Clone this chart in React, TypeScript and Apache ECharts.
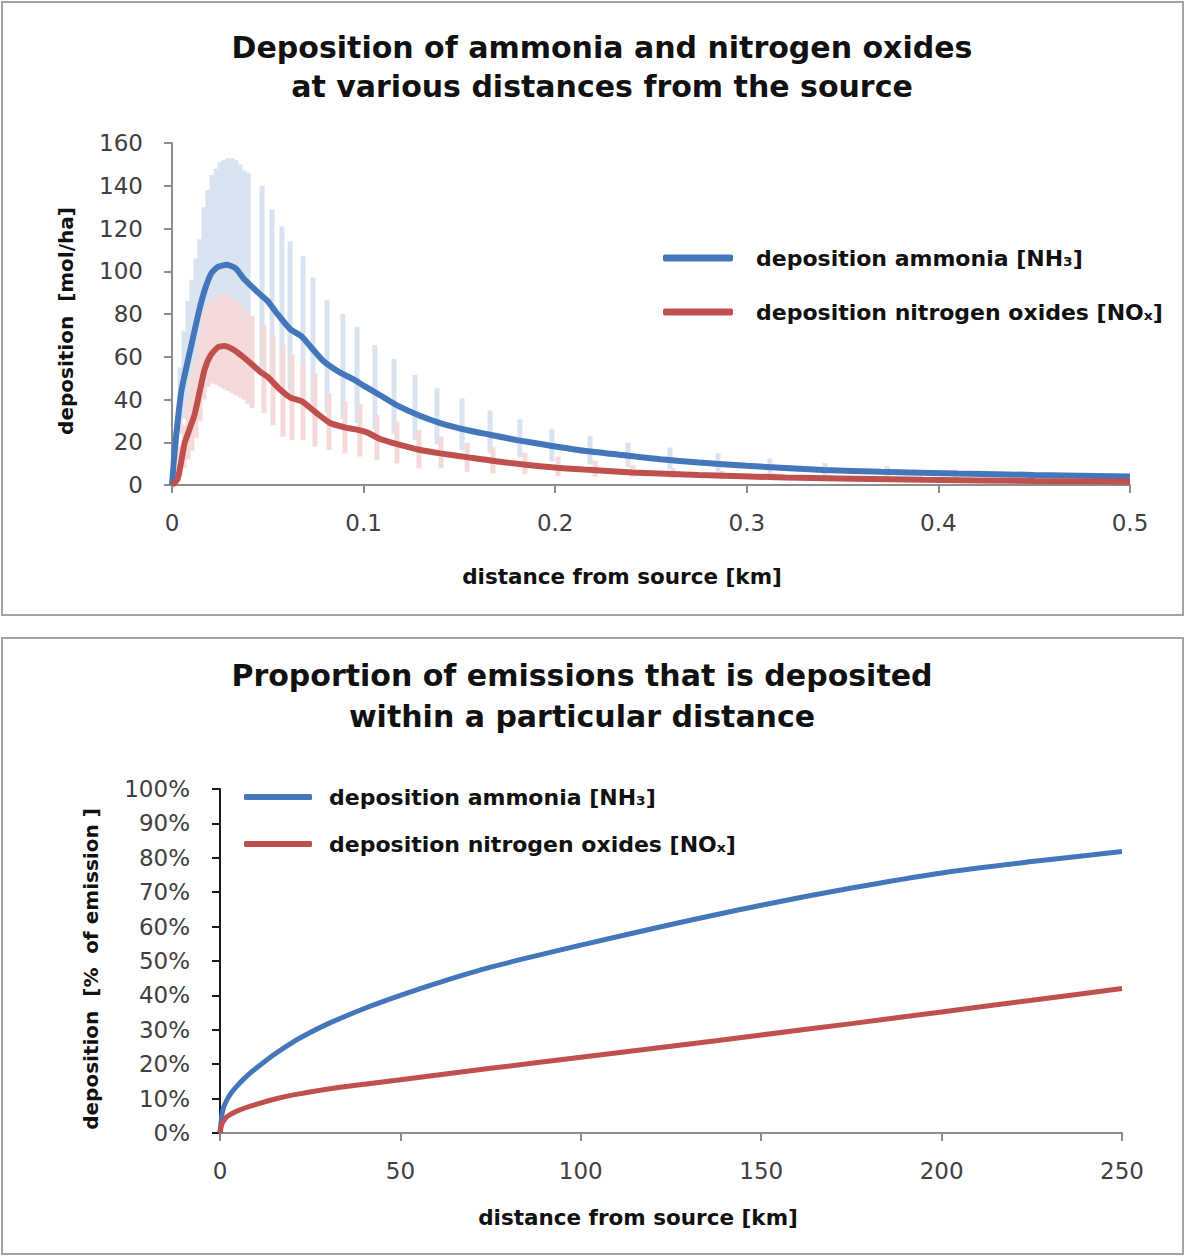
import React, { useEffect, useRef } from "react";
import * as echarts from "echarts";

// ---------- Top chart: deposition vs distance (km) ----------
const topXTicks = [0, 0.1, 0.2, 0.3, 0.4, 0.5];
const topYTicks = [0, 20, 40, 60, 80, 100, 120, 140, 160];

// ammonia line [km, mol/ha]
const nh3Line: [number, number][] = [
  [0, 0], [0.0014, 16], [0.003, 30], [0.0049, 44], [0.008, 57], [0.011, 69], [0.014, 81],
  [0.017, 91], [0.0205, 99], [0.024, 102], [0.0285, 103], [0.033, 101.5], [0.038, 96],
  [0.045, 90], [0.05, 86], [0.055, 80], [0.0616, 73], [0.0677, 69.5], [0.073, 64],
  [0.079, 58], [0.087, 53], [0.0945, 49.5], [0.1, 46.5], [0.1086, 42], [0.118, 37],
  [0.129, 32.5], [0.14, 29], [0.155, 25.5], [0.166, 23.5], [0.18, 21], [0.197, 18.5],
  [0.215, 16], [0.235, 14], [0.255, 12], [0.275, 10.5], [0.3, 9], [0.34, 7], [0.37, 6.2],
  [0.41, 5.4], [0.45, 4.7], [0.5, 4],
];

// nitrogen oxides line [km, mol/ha]
const noxLine: [number, number][] = [
  [0, 0], [0.003, 3], [0.0066, 19.6], [0.0095, 27], [0.0118, 33], [0.0145, 44], [0.017, 54],
  [0.02, 60.5], [0.024, 64.5], [0.0275, 65], [0.0327, 63], [0.037, 60], [0.041, 57],
  [0.046, 53], [0.05, 50.5], [0.056, 45], [0.0616, 41], [0.068, 39], [0.075, 34],
  [0.0825, 29], [0.09, 27], [0.096, 26], [0.102, 24.5], [0.1086, 21.5], [0.118, 19],
  [0.129, 16.5], [0.14, 14.8], [0.1555, 12.8], [0.17, 11], [0.192, 8.8], [0.215, 7.2],
  [0.24, 5.9], [0.275, 4.7], [0.32, 3.5], [0.392, 2.4], [0.45, 1.9], [0.5, 1.6],
];

// ammonia range bars
const nh3BarX = [
  0.0021, 0.0042, 0.0063, 0.0084, 0.0104, 0.0125, 0.0146, 0.0167, 0.0188, 0.0209, 0.023,
  0.0251, 0.0271, 0.0292, 0.0313, 0.0334, 0.0355, 0.0376, 0.0397, 0.047, 0.0522, 0.0574,
  0.0616, 0.0684, 0.0736, 0.0809, 0.0892, 0.0966, 0.1059, 0.1159, 0.1268, 0.1383, 0.1514,
  0.166, 0.1816, 0.1983, 0.2182, 0.238, 0.2599, 0.285, 0.3121, 0.3408, 0.3732, 0.4086,
  0.4478, 0.4896,
];
const nh3BarHigh = [
  25, 55, 72, 86, 96, 106, 115, 130, 138, 145, 148, 151, 152, 153, 153, 152, 150, 147,
  146, 140, 129, 121, 114, 107, 97, 86.5, 80, 74, 65.5, 59, 51.5, 45.5, 40.6, 35, 30.7,
  26.2, 23, 19.8, 17.5, 14.8, 12.5, 10.3, 8.9, 7.0, 5.8, 4.8,
];
const nh3BarLow = [
  13, 24, 31, 37, 42, 46, 50, 54, 56, 59, 60, 61, 62, 62, 61, 60, 58, 57, 56, 53, 50, 47,
  44, 41, 38, 34, 31, 29, 26, 24, 21, 19, 16.5, 15, 13, 11, 9.6, 8.3, 7.2, 6.2, 5.2, 4.3,
  3.7, 3.2, 2.8, 2.5,
];

// nitrogen oxides range bars
const noxBarX = [
  0.0042, 0.0063, 0.0084, 0.0104, 0.0125, 0.0146, 0.0167, 0.0188, 0.0209, 0.023, 0.0251,
  0.0271, 0.0292, 0.0313, 0.0334, 0.0355, 0.0376, 0.0397, 0.0418, 0.048, 0.0527, 0.0579,
  0.0626, 0.0684, 0.0746, 0.0819, 0.0903, 0.0981, 0.107, 0.1174, 0.1289, 0.1404, 0.154,
  0.1675, 0.1842, 0.2015, 0.2208, 0.2406, 0.2615, 0.2871, 0.3142, 0.3434, 0.3758,
];
const noxBarHigh = [
  18, 28, 40, 52, 60, 70, 82, 85, 86.5, 88, 89, 89, 88.5, 87.5, 86, 84, 82, 80.5, 79, 75,
  70, 65.5, 61, 57, 52, 43, 39, 38, 32.7, 29.6, 25.7, 22.6, 19.8, 17.6, 15.1, 13.3, 11.4,
  9.4, 7.8, 6.6, 5.6, 4.8, 4.1,
];
const noxBarLow = [
  4, 8, 12, 16, 22, 30, 40, 46, 47.5, 47, 46, 45, 44, 43, 42, 41, 40, 38, 36, 33.7, 28,
  22.6, 21, 21, 18, 16.4, 14.8, 13.3, 11.7, 10.1, 7.8, 7.8, 6.2, 5.5, 5.1, 4.2, 3.9, 3.9,
  3.1, 2.6, 2.2, 1.8, 1.5,
];

// ---------- Bottom chart: cumulative proportion vs distance ----------
const bottomXTicks = [0, 50, 100, 150, 200, 250];
const bottomYTicks = [0, 10, 20, 30, 40, 50, 60, 70, 80, 90, 100];

const nh3Cumulative: [number, number][] = [
  [0, 0], [0.5, 5], [1, 7.5], [2, 9.8], [3, 11.5], [5, 14], [7.5, 16.6], [10, 18.8],
  [15, 22.8], [20, 26.3], [25, 29.2], [30, 31.8], [40, 36.2], [50, 40], [60, 43.5], [75, 48.2],
  [100, 54.6], [125, 60.6], [150, 66.2], [175, 71.2], [200, 75.6], [225, 78.9], [250, 81.8],
];
const noxCumulative: [number, number][] = [
  [0, 0], [0.5, 2.5], [1, 3.5], [2, 4.8], [5, 6.5], [10, 8.3], [15, 9.8], [20, 11],
  [30, 12.8], [40, 14.2], [50, 15.5], [75, 18.8], [100, 22], [125, 25.2], [150, 28.5],
  [175, 31.8], [200, 35.2], [225, 38.6], [250, 42],
];

const NH3_NAME = "deposition ammonia [NH₃]";
const NOX_NAME = "deposition nitrogen oxides [NOₓ]";

const BLUE = "#4376bb";
const RED = "#c0504d";
const BLUE_BAR = "#dae4f1";
const RED_BAR = "#f4dad9";
const FONT = "DejaVu Sans";
const LABEL_COLOR = "#404040";
const DARK = "#111111";

function rangeBars(name: string, xs: number[], lows: number[], highs: number[], color: string, idx: number, z: number) {
  return {
    name,
    type: "custom",
    xAxisIndex: idx,
    yAxisIndex: idx,
    silent: true,
    z,
    encode: { x: 0, y: [1, 2] },
    data: xs.map((x, i) => [x, lows[i], highs[i]]),
    renderItem: (_params: any, api: any) => {
      const x = api.value(0);
      const lo = api.value(1);
      const hi = api.value(2);
      const pHi = api.coord([x, hi]);
      const pLo = api.coord([x, lo]);
      const w = 5;
      return {
        type: "rect",
        shape: { x: pHi[0] - w / 2, y: pHi[1], width: w, height: pLo[1] - pHi[1] },
        style: { fill: color },
      };
    },
  };
}

export default function App() {
  const ref = useRef<HTMLDivElement>(null);
  useEffect(() => {
    if (!ref.current) return;
    const chart = echarts.init(ref.current, null, { renderer: "svg" });
    const axisNameStyle = { fontFamily: FONT, fontWeight: "bold", fontSize: 20, color: DARK };
    const tickLabel = { fontFamily: FONT, fontSize: 23, color: LABEL_COLOR };
    const legendText = { fontFamily: FONT, fontWeight: "bold", fontSize: 22, color: DARK, lineHeight: 24 };
    const option: any = {
      animation: false,
      backgroundColor: "#ffffff",
      graphic: [
        { type: "rect", shape: { x: 2, y: 2, width: 1181, height: 613 }, style: { fill: "none", stroke: "#a3a3a3", lineWidth: 2 } },
        { type: "rect", shape: { x: 2, y: 638, width: 1181, height: 616 }, style: { fill: "none", stroke: "#a3a3a3", lineWidth: 2 } },
      ],
      title: [
        {
          text: "Deposition of ammonia and nitrogen oxides\nat various distances from the source",
          left: 602, top: 28, textAlign: "center", padding: 0,
          textStyle: { fontFamily: FONT, fontWeight: "bold", fontSize: 30, lineHeight: 39, color: DARK },
        },
        {
          text: "Proportion of emissions that is deposited\nwithin a particular distance",
          left: 582, top: 655, textAlign: "center", padding: 0,
          textStyle: { fontFamily: FONT, fontWeight: "bold", fontSize: 30, lineHeight: 41, color: DARK },
        },
      ],
      legend: [
        {
          data: [NH3_NAME, NOX_NAME], orient: "vertical", left: 663, top: 246, padding: 0,
          itemGap: 30, itemWidth: 70, itemHeight: 7, icon: "roundRect", selectedMode: false,
          textStyle: { ...legendText, padding: [0, 0, 0, 18] },
        },
        {
          data: [NH3_NAME, NOX_NAME], orient: "vertical", left: 244, top: 785, padding: 0,
          itemGap: 23, itemWidth: 68, itemHeight: 6, icon: "roundRect", selectedMode: false,
          textStyle: { ...legendText, padding: [0, 0, 0, 12] },
        },
      ],
      grid: [
        { left: 172, right: 56, top: 143, height: 342 },
        { left: 220, right: 64, top: 789, height: 344 },
      ],
      xAxis: [
        {
          type: "value", gridIndex: 0, min: topXTicks[0], max: topXTicks[topXTicks.length - 1], interval: 0.1,
          name: "distance from source [km]", nameLocation: "middle", nameGap: 80,
          nameTextStyle: { ...axisNameStyle, fontSize: 21.5, padding: [0, 58, 0, 0] },
          axisLine: { lineStyle: { color: "#8c8c8c", width: 2 } },
          axisTick: { show: true, length: 8, lineStyle: { color: "#8c8c8c", width: 2 } },
          axisLabel: { ...tickLabel, margin: 26, formatter: (v: number) => String(Number(v.toFixed(1))) },
          splitLine: { show: false },
        },
        {
          type: "value", gridIndex: 1, min: bottomXTicks[0], max: bottomXTicks[bottomXTicks.length - 1], interval: 50,
          name: "distance from source [km]", nameLocation: "middle", nameGap: 73,
          nameTextStyle: { ...axisNameStyle, fontSize: 21.5, padding: [0, 66, 0, 0] },
          axisLine: { lineStyle: { color: "#8c8c8c", width: 2 } },
          axisTick: { show: true, length: 8, lineStyle: { color: "#8c8c8c", width: 2 } },
          axisLabel: { ...tickLabel, margin: 26 },
          splitLine: { show: false },
        },
      ],
      yAxis: [
        {
          type: "value", gridIndex: 0, min: topYTicks[0], max: topYTicks[topYTicks.length - 1], interval: 20,
          name: "deposition  [mol/ha]", nameLocation: "middle", nameGap: 96,
          nameTextStyle: { ...axisNameStyle, padding: [0, 14, 0, 0] },
          axisLine: { show: true, lineStyle: { color: "#8c8c8c", width: 2 } },
          axisTick: { show: true, length: 8, lineStyle: { color: "#8c8c8c", width: 2 } },
          axisLabel: { ...tickLabel, margin: 29 },
          splitLine: { show: false },
        },
        {
          type: "value", gridIndex: 1, min: bottomYTicks[0], max: bottomYTicks[bottomYTicks.length - 1], interval: 10,
          name: "deposition  [%  of emission ]", nameLocation: "middle", nameGap: 119,
          nameTextStyle: { ...axisNameStyle, padding: [0, 16, 0, 0] },
          axisLine: { show: true, lineStyle: { color: "#1a1a1a", width: 2 } },
          axisTick: { show: true, length: 8, lineStyle: { color: "#1a1a1a", width: 2 } },
          axisLabel: { ...tickLabel, margin: 30, formatter: "{value}%" },
          splitLine: { show: false },
        },
      ],
      series: [
        rangeBars("NH3 range", nh3BarX, nh3BarLow, nh3BarHigh, BLUE_BAR, 0, 1),
        rangeBars("NOx range", noxBarX, noxBarLow, noxBarHigh, RED_BAR, 0, 2),
        {
          name: NH3_NAME, type: "line", xAxisIndex: 0, yAxisIndex: 0, data: nh3Line, smooth: 0.2,
          showSymbol: false, symbol: "none", z: 3, lineStyle: { color: BLUE, width: 6 }, itemStyle: { color: BLUE },
        },
        {
          name: NOX_NAME, type: "line", xAxisIndex: 0, yAxisIndex: 0, data: noxLine, smooth: 0.2,
          showSymbol: false, symbol: "none", z: 4, lineStyle: { color: RED, width: 6 }, itemStyle: { color: RED },
        },
        {
          name: NH3_NAME, type: "line", xAxisIndex: 1, yAxisIndex: 1, data: nh3Cumulative, smooth: 0.3,
          showSymbol: false, symbol: "none", z: 3, lineStyle: { color: BLUE, width: 5 }, itemStyle: { color: BLUE },
        },
        {
          name: NOX_NAME, type: "line", xAxisIndex: 1, yAxisIndex: 1, data: noxCumulative, smooth: 0.3,
          showSymbol: false, symbol: "none", z: 4, lineStyle: { color: RED, width: 5 }, itemStyle: { color: RED },
        },
      ],
    };
    chart.setOption(option);
    return () => chart.dispose();
  }, []);
  return (
    <div
      ref={ref}
      style={{ position: "absolute", left: 0, top: 0, width: 1186, height: 1257, background: "#fff" }}
    />
  );
}
